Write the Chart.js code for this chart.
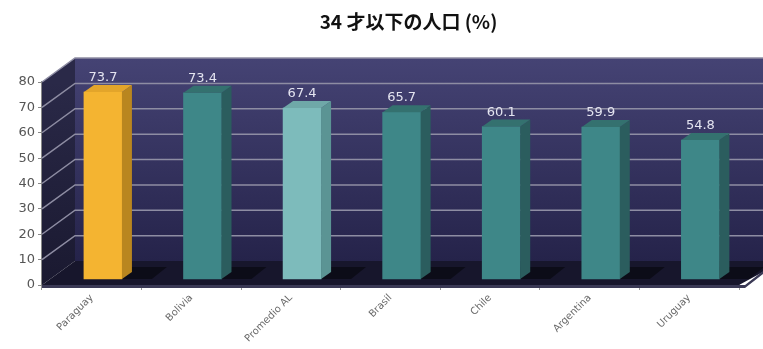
<!DOCTYPE html>
<html>
<head>
<meta charset="utf-8">
<script src="https://cdn.jsdelivr.net/npm/chart.js@4/dist/chart.umd.min.js"></script>
<style>
  html, body { margin: 0; padding: 0; background: #fff; }
  #wrap { width: 763px; height: 349px; }
</style>
</head>
<body>
<div id="wrap"><canvas id="myChart" width="763" height="349"></canvas></div>
<script>
// chart data
const titleText = '34 才以下の人口 (%)';
const countries = ['Paraguay', 'Bolivia', 'Promedio AL', 'Brasil', 'Chile', 'Argentina', 'Uruguay'];
const youngShare = [73.7, 73.4, 67.4, 65.7, 60.1, 59.9, 54.8];
const yTicks = [0, 10, 20, 30, 40, 50, 60, 70, 80];

// bar colours: front face, side face, top face
const frontColors = ['#F4B431', '#3E8788', '#7DBBBB', '#3E8788', '#3E8788', '#3E8788', '#3E8788'];
const sideColors  = ['#B9861F', '#2B5D5E', '#5B9494', '#2B5D5E', '#2B5D5E', '#2B5D5E', '#2B5D5E'];
const topColors   = ['#E3A52A', '#34716F', '#6FA8A8', '#34716F', '#34716F', '#34716F', '#34716F'];

// depth of the "3D" box
const depthX = 33, depthY = 24;
// depth of each bar
const barDX = 10, barDY = 7;

// draws the walls, floor and back gridlines before the bars
const wallsPlugin = {
  id: 'walls',
  beforeDatasetsDraw(chart) {
    const ctx = chart.ctx;
    const a = chart.chartArea;
    const y = chart.scales.y;
    ctx.save();
    // back wall
    let g = ctx.createLinearGradient(0, a.top - depthY, 0, a.bottom - depthY);
    g.addColorStop(0, '#454374');
    g.addColorStop(1, '#25234A');
    ctx.fillStyle = g;
    ctx.fillRect(a.left + depthX, a.top - depthY, a.right - a.left + 10, a.bottom - a.top);
    // left side wall
    g = ctx.createLinearGradient(0, a.top, 0, a.bottom);
    g.addColorStop(0, '#2A2948');
    g.addColorStop(1, '#1A1930');
    ctx.fillStyle = g;
    ctx.beginPath();
    ctx.moveTo(a.left, a.top);
    ctx.lineTo(a.left + depthX, a.top - depthY);
    ctx.lineTo(a.left + depthX, a.bottom - depthY);
    ctx.lineTo(a.left, a.bottom);
    ctx.closePath();
    ctx.fill();
    // gridlines on back wall and side wall
    ctx.strokeStyle = '#8E8DA3';
    ctx.lineWidth = 1.5;
    yTicks.forEach(function (v) {
      if (v === 0) return;
      const py = y.getPixelForValue(v);
      ctx.beginPath();
      ctx.moveTo(a.left, py);
      ctx.lineTo(a.left + depthX, py - depthY);
      ctx.lineTo(chart.width, py - depthY);
      ctx.stroke();
    });
    // floor
    ctx.fillStyle = '#17162C';
    ctx.beginPath();
    ctx.moveTo(a.left, a.bottom);
    ctx.lineTo(a.left + depthX, a.bottom - depthY);
    ctx.lineTo(chart.width + 20, a.bottom - depthY);
    ctx.lineTo(a.right, a.bottom);
    ctx.closePath();
    ctx.fill();
    // floor front edge
    ctx.fillStyle = '#3A3955';
    ctx.beginPath();
    ctx.moveTo(a.left, a.bottom);
    ctx.lineTo(a.right + 6, a.bottom);
    ctx.lineTo(a.right + 24, a.bottom - 14);
    ctx.lineTo(a.right + 24, a.bottom - 11);
    ctx.lineTo(a.right + 6, a.bottom + 3);
    ctx.lineTo(a.left, a.bottom + 3);
    ctx.closePath();
    ctx.fill();
    // shadows of bars on the floor
    const meta = chart.getDatasetMeta(0);
    ctx.fillStyle = 'rgba(0,0,0,0.45)';
    meta.data.forEach(function (bar) {
      const w = bar.width;
      ctx.beginPath();
      ctx.moveTo(bar.x - w / 2, bar.base);
      ctx.lineTo(bar.x + w / 2 + 30, bar.base);
      ctx.lineTo(bar.x + w / 2 + 45, bar.base - 12);
      ctx.lineTo(bar.x - w / 2 + 10, bar.base - 12);
      ctx.closePath();
      ctx.fill();
    });
    ctx.restore();
  },
  afterDatasetsDraw(chart) {
    const ctx = chart.ctx;
    const meta = chart.getDatasetMeta(0);
    ctx.save();
    meta.data.forEach(function (bar, i) {
      const l = bar.x - bar.width / 2, r = bar.x + bar.width / 2;
      // side face
      ctx.fillStyle = sideColors[i];
      ctx.beginPath();
      ctx.moveTo(r, bar.y);
      ctx.lineTo(r + barDX, bar.y - barDY);
      ctx.lineTo(r + barDX, bar.base - barDY);
      ctx.lineTo(r, bar.base);
      ctx.closePath();
      ctx.fill();
      // top face
      ctx.fillStyle = topColors[i];
      ctx.beginPath();
      ctx.moveTo(l, bar.y);
      ctx.lineTo(l + barDX, bar.y - barDY);
      ctx.lineTo(r + barDX, bar.y - barDY);
      ctx.lineTo(r, bar.y);
      ctx.closePath();
      ctx.fill();
      // value label
      ctx.fillStyle = '#E4E4F0';
      ctx.font = '13px "DejaVu Sans", sans-serif';
      ctx.textAlign = 'center';
      ctx.textBaseline = 'alphabetic';
      ctx.fillText(youngShare[i].toFixed(1), bar.x, bar.y - barDY - 4);
    });
    // title
    ctx.fillStyle = '#111';
    ctx.font = 'bold 19px "Noto Sans CJK JP", sans-serif';
    ctx.textAlign = 'center';
    ctx.textBaseline = 'middle';
    ctx.fillText(titleText, (chart.chartArea.left + chart.chartArea.right) / 2 + 18, 22);
    ctx.restore();
  }
};

const ctx = document.getElementById('myChart').getContext('2d');
const myChart = new Chart(ctx, {
  type: 'bar',
  data: {
    labels: countries,
    datasets: [{
      label: titleText,
      data: youngShare.map(function (v, i) { return { x: i, y: v }; }),
      backgroundColor: frontColors,
      borderWidth: 0,
      barThickness: 38,
      xAxisID: 'x2',
      yAxisID: 'y2'
    }]
  },
  options: {
    responsive: false,
    animation: false,
    layout: { padding: { top: 82, right: 24, left: 0, bottom: 0 } },
    plugins: {
      legend: { display: false },
      title: { display: false },
      tooltip: { enabled: false }
    },
    scales: {
      x: {
        type: 'category',
        offset: true,
        grid: { display: true, offset: true, drawOnChartArea: false, tickLength: 5, color: '#999' },
        border: { color: '#999', width: 1.5 },
        ticks: {
          color: '#6A6A6A',
          font: { size: 10, family: 'DejaVu Sans' },
          minRotation: 45,
          maxRotation: 45,
          padding: 2
        },
        afterFit(scale) { scale.height = 64; }
      },
      y: {
        min: 0,
        max: 80,
        grid: { drawOnChartArea: false, tickLength: 4, color: '#888' },
        border: { color: '#888', width: 1.5 },
        ticks: {
          stepSize: 10,
          color: '#555',
          padding: 3,
          font: { size: 13, family: 'DejaVu Sans' }
        },
        afterFit(scale) { scale.width = 42; }
      },
      // hidden scales that place the bars a bit into the depth of the box
      x2: {
        type: 'linear',
        display: false,
        offset: false,
        min: -0.612,
        max: 6.388
      },
      y2: {
        display: false,
        min: -2.36,
        max: 77.64
      }
    }
  },
  plugins: [wallsPlugin]
});
</script>
</body>
</html>
